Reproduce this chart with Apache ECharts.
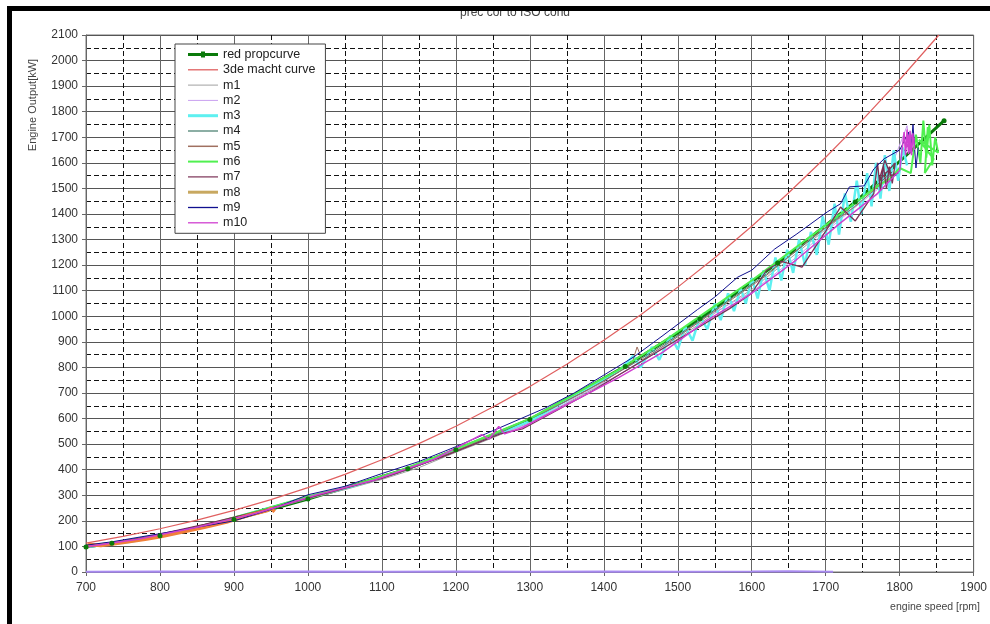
<!DOCTYPE html>
<html>
<head>
<meta charset="utf-8">
<title>prec cor to ISO cond</title>
<style>
  body { margin: 0; background: #fff; }
  #main { position: absolute; left: 0; top: 0; width: 990px; height: 624px; }
  #frame { position: absolute; left: 7px; top: 6px; width: 990px; height: 630px;
           border-top: 5px solid #000; border-left: 5px solid #000; pointer-events: none; }
</style>
</head>
<body>
<div id="main"></div>
<div id="frame"></div>
<script src="https://cdn.jsdelivr.net/npm/echarts/dist/echarts.min.js"></script>
<script>
    // engine speed [rpm] vs engine output [kW]
    var propCurve = [[700, 98], [735, 112], [800, 142], [900, 205], [1000, 285], [1135, 404], [1200, 478],
        [1300, 596], [1429, 804], [1530, 990], [1635, 1208], [1740, 1447], [1860, 1765]];

    var macht3 = [[700, 113], [750, 139], [800, 169], [850, 203], [900, 241], [950, 283], [1000, 330],
        [1050, 382], [1100, 439], [1150, 502], [1200, 570], [1250, 645], [1300, 725], [1350, 812],
        [1400, 906], [1450, 1006], [1500, 1114], [1550, 1229], [1600, 1352], [1650, 1483], [1700, 1622],
        [1750, 1769], [1800, 1925], [1853, 2100]];

    var m1 = [[700, 95], [750, 114], [800, 138], [850, 172], [900, 207], [950, 246], [1000, 286], [1050, 322],
        [1100, 362], [1150, 408], [1200, 468], [1250, 525], [1300, 585], [1350, 660], [1400, 738], [1450, 820],
        [1500, 912], [1550, 1012], [1600, 1105], [1650, 1222], [1700, 1340], [1750, 1455], [1790, 1560]];

    var m2 = [[710, 102], [760, 122], [820, 155], [880, 195], [940, 240], [1000, 290], [1060, 335], [1120, 385],
        [1180, 455], [1240, 520], [1300, 580], [1360, 680], [1420, 770], [1480, 880], [1540, 1000], [1600, 1095],
        [1660, 1230], [1720, 1380], [1780, 1520], [1810, 1745], [1814, 1640]];
    var m2zero = [[700, 1], [800, 2], [900, 1], [1000, 2], [1100, 1], [1200, 2], [1300, 1], [1400, 2],
        [1500, 1], [1600, 2], [1650, 3], [1710, 1]];

    var m3 = [[700, 98], [760, 118], [820, 152], [880, 195], [940, 245], [1000, 292], [1060, 335], [1120, 388],
        [1180, 452], [1240, 522], [1300, 590], [1340, 655], [1380, 722], [1420, 785], [1440, 845], [1450, 800],
        [1465, 880], [1475, 830], [1490, 925], [1500, 870], [1510, 960], [1520, 905], [1530, 1000], [1540, 950],
        [1550, 1050], [1558, 985], [1568, 1090], [1576, 1020], [1585, 1110], [1592, 1050], [1600, 1150],
        [1608, 1070], [1616, 1180], [1624, 1100], [1632, 1230], [1640, 1140], [1648, 1260], [1656, 1170],
        [1664, 1300], [1672, 1200], [1680, 1330], [1688, 1240], [1696, 1390], [1704, 1280], [1712, 1440],
        [1718, 1320], [1726, 1480], [1734, 1370], [1742, 1530], [1748, 1400], [1756, 1560], [1762, 1430],
        [1768, 1600], [1774, 1460], [1780, 1630], [1786, 1490], [1792, 1650], [1798, 1530], [1804, 1660],
        [1810, 1590]];

    var m4 = [[700, 100], [760, 121], [830, 165], [900, 212], [960, 262], [1020, 308], [1080, 352], [1140, 405],
        [1200, 474], [1260, 545], [1320, 625], [1380, 715], [1440, 815], [1500, 925], [1560, 1045], [1620, 1165],
        [1680, 1300], [1740, 1440], [1790, 1565]];

    var m5 = [[700, 96], [760, 120], [830, 162], [900, 210], [970, 265], [1050, 328], [1120, 385], [1190, 462],
        [1260, 548], [1330, 640], [1400, 745], [1438, 815], [1445, 880], [1452, 830], [1500, 920], [1560, 1040],
        [1620, 1160], [1680, 1305], [1740, 1430], [1790, 1555]];

    var m6 = [[700, 102], [760, 124], [820, 156], [880, 198], [940, 245], [1000, 295], [1060, 338], [1120, 392],
        [1180, 458], [1240, 528], [1300, 600], [1360, 695], [1420, 790], [1480, 900], [1540, 1020], [1600, 1140],
        [1660, 1270], [1720, 1400], [1770, 1510], [1787, 1537], [1800, 1580], [1815, 1560], [1822, 1710],
        [1828, 1600], [1832, 1765], [1836, 1620], [1840, 1750], [1844, 1590], [1848, 1700], [1852, 1640],
        [1826, 1690], [1846, 1615], [1834, 1560], [1838, 1740]];

    var m7 = [[700, 97], [780, 135], [860, 186], [940, 242], [1020, 305], [1100, 366], [1180, 448], [1260, 540],
        [1290, 560], [1300, 575], [1380, 700], [1460, 840], [1530, 960], [1570, 1030], [1600, 1090],
        [1620, 1180], [1640, 1215], [1668, 1192], [1700, 1333], [1720, 1427], [1740, 1373], [1765, 1480],
        [1770, 1600], [1774, 1490], [1778, 1590], [1782, 1500], [1786, 1585], [1790, 1520], [1794, 1600],
        [1772, 1530], [1780, 1610], [1788, 1550], [1798, 1560]];

    var m8 = [[700, 96], [705, 108], [720, 104], [750, 115], [780, 128], [800, 138], [830, 156], [860, 175],
        [890, 195], [920, 222], [945, 240], [950, 250], [955, 236]];

    var m9 = [[700, 105], [735, 118], [800, 150], [850, 175], [900, 200], [950, 245], [1000, 302], [1050, 335],
        [1100, 385], [1150, 432], [1200, 490], [1240, 540], [1280, 590], [1320, 640], [1360, 700], [1400, 770],
        [1440, 840], [1480, 925], [1527, 1027], [1550, 1075], [1581, 1153], [1600, 1180], [1631, 1263],
        [1660, 1320], [1702, 1408], [1720, 1440], [1732, 1506], [1752, 1510], [1765, 1576], [1779, 1616],
        [1800, 1650], [1812, 1720], [1815, 1640], [1818, 1750], [1822, 1580], [1825, 1660]];

    var m10 = [[700, 99], [770, 128], [850, 175], [930, 230], [1010, 300], [1090, 360], [1170, 440], [1235, 537],
        [1245, 520], [1258, 569], [1266, 540], [1290, 565], [1350, 655], [1420, 760], [1480, 860], [1540, 985],
        [1600, 1090], [1660, 1220], [1720, 1365], [1770, 1480], [1800, 1570], [1806, 1720], [1808, 1630],
        [1810, 1730], [1812, 1635], [1814, 1725], [1816, 1630], [1818, 1715], [1807, 1650], [1811, 1710],
        [1815, 1640], [1819, 1700], [1820, 1650]];

    var seriesNames = ['red propcurve', '3de macht curve', 'm1', 'm2', 'm3', 'm4', 'm5', 'm6', 'm7', 'm8', 'm9', 'm10'];
    var xTicks = [700, 1900, 100];
    var yTicks = [0, 2100, 100];

    function lineSeries(name, data, color, width) {
        return {
            name: name,
            type: 'line',
            data: data,
            symbol: 'none',
            lineStyle: { color: color, width: width },
            itemStyle: { color: color },
            silent: true
        };
    }

    // legend samples: a flat bar of the series' thickness
    function barIcon(h) {
        return 'path://M0,0H30V' + h + 'H0Z';
    }

    var myChart = echarts.init(document.getElementById('main'));
    var font = '"Liberation Sans", Arial, sans-serif';

    var legendData = [
        { name: 'red propcurve', icon: 'path://M0,1.5H30V4.5H0Z M13,0H17V6H13Z' },
        { name: '3de macht curve', icon: barIcon(1.3) },
        { name: 'm1', icon: barIcon(1) },
        { name: 'm2', icon: barIcon(1) },
        { name: 'm3', icon: barIcon(3) },
        { name: 'm4', icon: barIcon(1.2) },
        { name: 'm5', icon: barIcon(1.5) },
        { name: 'm6', icon: barIcon(2) },
        { name: 'm7', icon: barIcon(1.2) },
        { name: 'm8', icon: barIcon(3), itemStyle: { color: '#c8a860' } },
        { name: 'm9', icon: barIcon(1.3) },
        { name: 'm10', icon: barIcon(1.3) }
    ];

    myChart.setOption({
        animation: false,
        backgroundColor: '#fff',
        grid: {
            left: 86, right: 13, top: 35, bottom: 52,
            show: true, borderColor: '#777', borderWidth: 1
        },
        legend: {
            data: legendData,
            orient: 'vertical',
            left: 175, top: 44,
            itemWidth: 30, itemHeight: 12, itemGap: 2.3,
            padding: [4, 10, 4, 13],
            backgroundColor: '#fff',
            borderColor: '#444', borderWidth: 1,
            selectedMode: false,
            textStyle: { fontSize: 12.5, color: '#222', fontFamily: font }
        },
        xAxis: {
            type: 'value',
            min: xTicks[0], max: xTicks[1], interval: xTicks[2],
            axisLine: { show: true, lineStyle: { color: '#666' } },
            axisTick: { show: true, length: 4, lineStyle: { color: '#666' } },
            axisLabel: { color: '#333', fontSize: 12, fontFamily: font, margin: 10,
                         formatter: function (v) { return String(v); } },
            splitLine: { show: true, lineStyle: { color: '#666', width: 1 } },
            minorTick: { show: false, splitNumber: 2 },
            minorSplitLine: { show: true, lineStyle: { color: '#111', width: 1, type: [5, 3] } }
        },
        yAxis: {
            type: 'value',
            min: yTicks[0], max: yTicks[1], interval: yTicks[2],
            axisLine: { show: true, lineStyle: { color: '#666' } },
            axisTick: { show: true, length: 4, lineStyle: { color: '#666' } },
            axisLabel: { color: '#333', fontSize: 12, fontFamily: font, margin: 8,
                         formatter: function (v) { return String(v); } },
            splitLine: { show: true, lineStyle: { color: '#555', width: 1 } },
            minorTick: { show: false, splitNumber: 2 },
            minorSplitLine: { show: true, lineStyle: { color: '#111', width: 1, type: [5, 3] } }
        },
        graphic: [
            {
                type: 'text', x: 515, y: 13,
                style: { text: 'prec cor to ISO cond', font: '12px ' + font, fill: '#444',
                         textAlign: 'center', textVerticalAlign: 'middle' }
            },
            {
                type: 'text', x: 33, y: 105, rotation: Math.PI / 2,
                style: { text: 'Engine Output[kW]', font: '11px ' + font, fill: '#444',
                         textAlign: 'center', textVerticalAlign: 'middle' }
            },
            {
                type: 'text', x: 980, y: 607,
                style: { text: 'engine speed [rpm]', font: '10.5px ' + font, fill: '#444',
                         textAlign: 'right', textVerticalAlign: 'middle' }
            }
        ],
        series: [
            {
                name: 'red propcurve',
                type: 'line',
                data: propCurve,
                symbol: 'circle',
                symbolSize: 5,
                lineStyle: { color: '#0a7a0a', width: 3 },
                itemStyle: { color: '#0a7a0a' },
                silent: true
            },
            lineSeries('3de macht curve', macht3, '#e06060', 1.2),
            lineSeries('m1', m1, '#a0a0a0', 1),
            lineSeries('m2', m2, '#c9a0f0', 1),
            lineSeries('m2', m2zero, '#a88af0', 2),
            lineSeries('m3', m3, '#5ef0f0', 2.5),
            lineSeries('m4', m4, '#407868', 1),
            lineSeries('m5', m5, '#a07060', 1),
            lineSeries('m6', m6, '#50f050', 2),
            lineSeries('m7', m7, '#7a3055', 1.3),
            lineSeries('m8', m8, '#f0803a', 3.5),
            lineSeries('m9', m9, '#101090', 1),
            lineSeries('m10', m10, '#d040d0', 1.5)
        ]
    });
</script>
</body>
</html>
